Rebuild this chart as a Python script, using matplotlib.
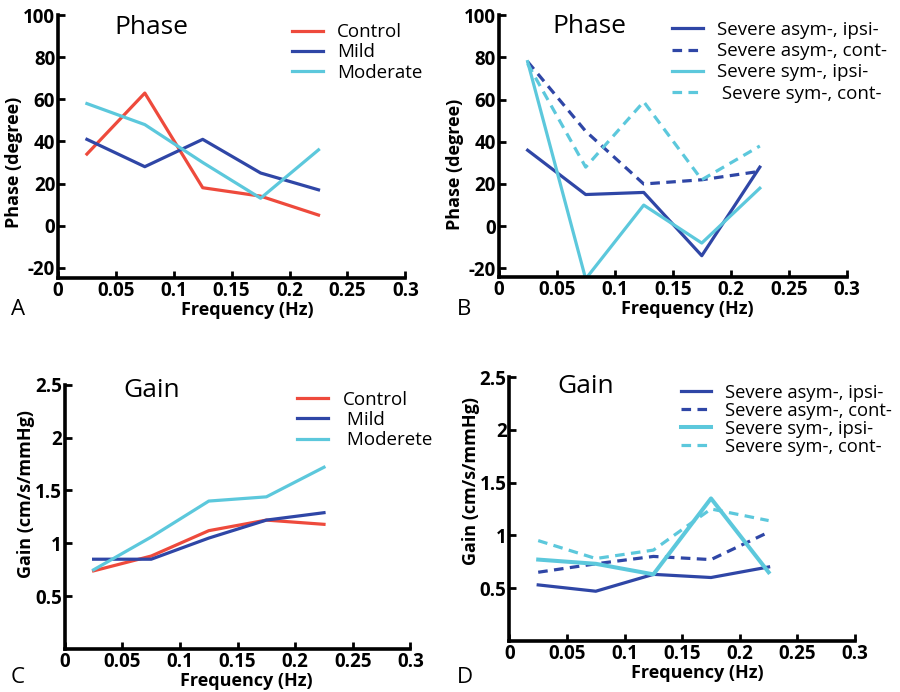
import matplotlib
matplotlib.use("Agg")
import matplotlib.pyplot as plt

freq = [0.025, 0.075, 0.125, 0.175, 0.225]

# Panel A - Phase
phase_control = [34, 63, 18, 14, 5]
phase_mild = [41, 28, 41, 25, 17]
phase_moderate = [58, 48, 30, 13, 36]

# Panel B - Phase severe
phase_asym_ipsi = [36, 15, 16, -14, 28]
phase_asym_cont = [78, 45, 20, 22, 26]
phase_sym_ipsi = [78, -25, 10, -8, 18]
phase_sym_cont = [77, 28, 59, 22, 38]

# Panel C - Gain
gain_control = [0.74, 0.88, 1.12, 1.22, 1.18]
gain_mild = [0.85, 0.85, 1.05, 1.22, 1.29]
gain_moderate = [0.75, 1.06, 1.40, 1.44, 1.72]

# Panel D - Gain severe
gain_asym_ipsi = [0.53, 0.47, 0.63, 0.60, 0.70]
gain_asym_cont = [0.65, 0.73, 0.80, 0.77, 1.03]
gain_sym_ipsi = [0.77, 0.73, 0.63, 1.35, 0.65]
gain_sym_cont = [0.95, 0.78, 0.86, 1.25, 1.14]

xticks = [0, 0.05, 0.1, 0.15, 0.2, 0.25, 0.3]
xticklabels = ["0", "0.05", "0.1", "0.15", "0.2", "0.25", "0.3"]
phase_ticks = [-20, 0, 20, 40, 60, 80, 100]
gain_ticks = [0.5, 1, 1.5, 2, 2.5]
gain_ticklabels = ["0.5", "1", "1.5", "2", "2.5"]

RED = "#ee4a3c"
DBLUE = "#2f46a6"
CYAN = "#5cc8dc"

plt.rcParams['font.family'] = ['Open Sans', 'DejaVu Sans']

fig = plt.figure(figsize=(9, 6.92), dpi=100)

def style(ax, ylim, yticks, yticklabels, ylabel, title, tx, ty, xl_x, yl_y):
    ax.set_xlim(0, 0.3)
    ax.set_ylim(*ylim)
    for s in ['top', 'right']:
        ax.spines[s].set_visible(False)
    for s in ['left', 'bottom']:
        ax.spines[s].set_linewidth(2.6)
    ax.set_xticks(xticks)
    ax.set_xticklabels(xticklabels)
    ax.set_yticks(yticks)
    ax.set_yticklabels(yticklabels)
    ax.tick_params(direction='in', length=5, width=2, labelsize=13.5, pad=2)
    for lab in ax.get_xticklabels() + ax.get_yticklabels():
        lab.set_fontweight('bold')
    ax.set_xlabel("Frequency (Hz)", fontsize=13, fontweight='bold', labelpad=0, x=xl_x)
    ax.set_ylabel(ylabel, fontsize=13, fontweight='bold', labelpad=0, y=yl_y)
    ax.text(tx, ty, title, transform=ax.transAxes, fontsize=19, ha='center', va='center')

lw = 2.3
leg_kw = dict(loc='upper left', frameon=False, fontsize=13.5, borderpad=0,
              handlelength=1.65, handletextpad=0.75, labelspacing=0.12, borderaxespad=0)

# A
axA = fig.add_axes([0.0644, 0.598, 0.386, 0.38])
axA.plot(freq, phase_control, color=RED, lw=lw, label="Control")
axA.plot(freq, phase_mild, color=DBLUE, lw=lw, label="Mild")
axA.plot(freq, phase_moderate, color=CYAN, lw=lw, label="Moderate")
style(axA, (-25, 100), phase_ticks, [str(t) for t in phase_ticks], "Phase (degree)", "Phase",
      0.27, 0.955, 0.545, 0.44)
axA.legend(bbox_to_anchor=(0.673, 0.97), **leg_kw)

# B
axB = fig.add_axes([0.554, 0.6, 0.387, 0.378])
axB.plot(freq, phase_asym_ipsi, color=DBLUE, lw=lw, label="Severe asym-, ipsi-")
axB.plot(freq, phase_asym_cont, color=DBLUE, lw=lw, ls=(0, (3, 2)), label="Severe asym-, cont-")
axB.plot(freq, phase_sym_ipsi, color=CYAN, lw=lw, label="Severe sym-, ipsi-")
axB.plot(freq, phase_sym_cont, color=CYAN, lw=lw, ls=(0, (3, 2)), label=" Severe sym-, cont-")
style(axB, (-24, 100), phase_ticks, [str(t) for t in phase_ticks], "Phase (degree)", "Phase",
      0.26, 0.955, 0.543, 0.43)
legB = dict(leg_kw)
legB['labelspacing'] = 0.17
axB.legend(bbox_to_anchor=(0.497, 0.978), **legB)

# C
axC = fig.add_axes([0.072, 0.062, 0.384, 0.382])
axC.plot(freq, gain_control, color=RED, lw=lw, label="Control")
axC.plot(freq, gain_mild, color=DBLUE, lw=lw, label=" Mild")
axC.plot(freq, gain_moderate, color=CYAN, lw=lw, label=" Moderete")
style(axC, (0, 2.5), gain_ticks, gain_ticklabels, "Gain (cm/s/mmHg)", "Gain",
      0.25, 0.98, 0.524, 0.587)
axC.legend(bbox_to_anchor=(0.673, 0.978), **leg_kw)

# D
axD = fig.add_axes([0.566, 0.074, 0.384, 0.381])
axD.plot(freq, gain_asym_ipsi, color=DBLUE, lw=lw, label="Severe asym-, ipsi-")
axD.plot(freq, gain_asym_cont, color=DBLUE, lw=lw, ls=(0, (3, 2)), label="Severe asym-, cont-")
axD.plot(freq, gain_sym_ipsi, color=CYAN, lw=lw + 0.6, label="Severe sym-, ipsi-")
axD.plot(freq, gain_sym_cont, color=CYAN, lw=lw, ls=(0, (3, 2)), label="Severe sym-, cont-")
style(axD, (0, 2.5), gain_ticks, gain_ticklabels, "Gain (cm/s/mmHg)", "Gain",
      0.22, 0.965, 0.544, 0.606)
legD = dict(leg_kw)
legD['labelspacing'] = 0.0
legD['fontsize'] = 13.2
axD.legend(bbox_to_anchor=(0.497, 0.975), **legD)

for lbl, x, y in [("A", 0.012, 0.538), ("B", 0.508, 0.538), ("C", 0.012, 0.006), ("D", 0.508, 0.006)]:
    fig.text(x, y, lbl, fontsize=16, ha='left', va='bottom')

fig.savefig("out.png", dpi=100)
